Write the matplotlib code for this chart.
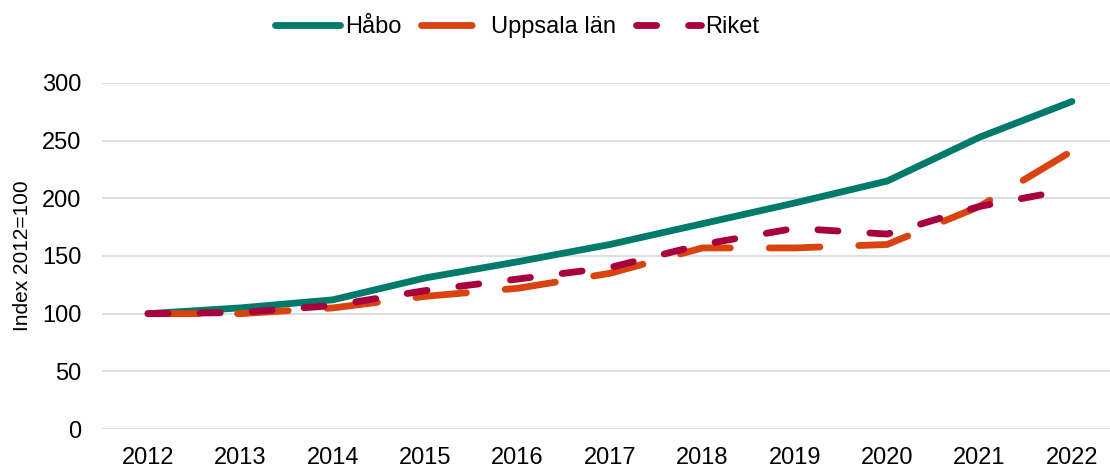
import matplotlib
matplotlib.use("Agg")
import matplotlib.pyplot as plt

plt.rcParams['font.family'] = ['Liberation Sans', 'DejaVu Sans']
plt.rcParams['lines.scale_dashes'] = False

years = ["2012", "2013", "2014", "2015", "2016", "2017", "2018", "2019", "2020", "2021", "2022"]
habo = [100, 105, 112, 131, 145, 160, 178, 196, 215, 253, 284]
uppsala = [100, 100, 105, 115, 122, 135, 157, 157, 160, 193, 241]
riket = [100, 101, 107, 120, 130, 140, 160, 174, 169, 193, 208]
series_names = ["Håbo", "Uppsala län", "Riket"]
yticks = [0, 50, 100, 150, 200, 250, 300]

W, H = 1110, 468
fig = plt.figure(figsize=(W / 100, H / 100), dpi=100)
ax = fig.add_axes([102 / W, 1 - 429 / H, (W - 102) / W, (429 - 83) / H])

x = list(range(len(years)))
lw = 4.9
ax.plot(x, habo, color="#007A6A", lw=lw, solid_capstyle="round", solid_joinstyle="round",
        label=series_names[0], zorder=3)
l2, = ax.plot(x, uppsala, color="#D8430F", lw=lw, dash_capstyle="round", dash_joinstyle="round",
              label=series_names[1], zorder=4)
l2.set_dashes((36.5, 28))
l3, = ax.plot(x, riket, color="#A8003C", lw=lw, dash_capstyle="round", dash_joinstyle="round",
              label=series_names[2], zorder=5)
l3.set_dashes((14.5, 23))

ax.set_xlim(-0.498, (W - 148) / 92.4)
ax.set_ylim(0, 300)
ax.set_yticks(yticks)
ax.set_xticks(x)
ax.set_xticklabels(years)
ax.grid(axis="y", color="#D9D9D9", lw=1.2)
ax.set_axisbelow(True)
for s in ax.spines.values():
    s.set_visible(False)
ax.tick_params(axis="both", length=0, labelsize=17, colors="#000000")
ax.tick_params(axis="y", pad=15)
ax.tick_params(axis="x", pad=13)
ax.set_ylabel("Index 2012=100", fontsize=15)
ax.yaxis.set_label_coords(-70 / (W - 102), 0.5)

leg = fig.legend(loc="center", bbox_to_anchor=(0.466, 1 - 27 / H), ncol=3, frameon=False,
                 fontsize=17, handlelength=2.75, handletextpad=0.2, columnspacing=0.85)

fig.savefig("out.png", dpi=100)
